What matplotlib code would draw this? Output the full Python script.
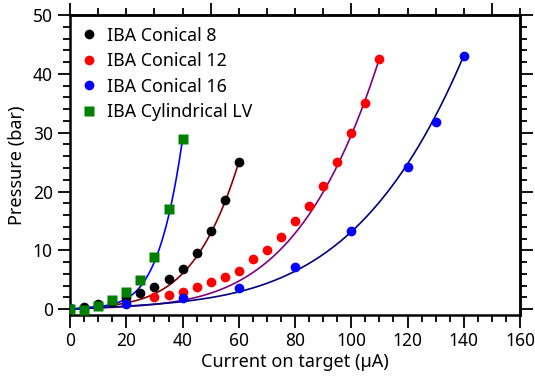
import numpy as np
import matplotlib
matplotlib.use("Agg")
import matplotlib.pyplot as plt
from matplotlib.ticker import MultipleLocator

# ---- data ----
c8_x = [0, 5, 10, 15, 20, 25, 30, 35, 40, 45, 50, 55, 60]
c8_y = [0.0, 0.3, 0.9, 1.3, 1.9, 2.8, 3.8, 5.1, 6.9, 9.6, 13.3, 18.5, 25.0]

c12_x = [30, 35, 40, 45, 50, 55, 60, 65, 70, 75, 80, 85, 90, 95, 100, 105, 110]
c12_y = [2.0, 2.4, 2.95, 3.8, 4.55, 5.4, 6.45, 8.45, 10.0, 12.3, 15.0, 17.5,
         21.0, 25.0, 30.0, 35.0, 42.6]

c16_x = [0, 20, 40, 60, 80, 100, 120, 130, 140]
c16_y = [0.2, 0.9, 1.9, 3.6, 7.1, 13.3, 24.2, 31.9, 43.1]

lv_x = [0, 5, 10, 15, 20, 25, 30, 35, 40]
lv_y = [0.0, -0.2, 0.5, 1.5, 3.0, 4.9, 8.9, 17.0, 28.9]

labels = ["IBA Conical 8", "IBA Conical 12", "IBA Conical 16", "IBA Cylindrical LV"]

# fitted trend curves: y = c*x + (y_end - c*x_end)*(x/x_end)**b
fit_lin = [0.04, 0.02, 0.025, 0.04]
fit_exp = [4.0, 4.0, 3.9, 4.8]


plt.rcParams['font.family'] = ['Noto Sans', 'DejaVu Sans']

fig = plt.figure(figsize=(5.35, 3.76), dpi=100)
ax = fig.add_axes([0.131, 0.162, 0.841, 0.798])

series = [
    (c8_x, c8_y, 'black', 'o', '#8b0000'),
    (c12_x, c12_y, '#ff0000', 'o', '#800080'),
    (c16_x, c16_y, '#0000ff', 'o', '#000080'),
    (lv_x, lv_y, '#008000', 's', '#0000ff'),
]

handles = []
for (x, y, col, mk, fitcol), lab, c, b in zip(series, labels, fit_lin, fit_exp):
    xe, ye = max(x), y[-1]
    xx = np.linspace(0, xe, 300)
    yy = c * xx + (ye - c * xe) * (xx / xe) ** b
    ax.plot(xx, yy, color=fitcol, lw=1.2, zorder=2)
    ms = 7 if mk == 'o' else 6.5
    h, = ax.plot(x, y, mk, color=col, ms=ms, mec='none', zorder=3, label=lab)
    handles.append(h)

ax.set_xlim(0, 160)
ax.set_ylim(-1, 50)

ax.xaxis.set_major_locator(MultipleLocator(20))
ax.xaxis.set_minor_locator(MultipleLocator(5))
ax.yaxis.set_major_locator(MultipleLocator(10))
ax.yaxis.set_minor_locator(MultipleLocator(2))

for s in ax.spines.values():
    s.set_linewidth(1.8)

ax.tick_params(which='both', direction='out', width=1.3, labelsize=12.5,
               colors='black')
ax.tick_params(which='major', length=9)
ax.tick_params(which='minor', length=5)

top = ax.secondary_xaxis('top')
top.xaxis.set_major_locator(MultipleLocator(50))
top.xaxis.set_minor_locator(MultipleLocator(10))
top.tick_params(which='both', direction='out', width=1.3, labelbottom=False,
                labeltop=False)
top.tick_params(which='major', length=9)
top.tick_params(which='minor', length=5)
top.spines['top'].set_linewidth(1.8)

right = ax.secondary_yaxis('right')
right.yaxis.set_major_locator(MultipleLocator(10))
right.yaxis.set_minor_locator(MultipleLocator(2))
right.tick_params(which='both', direction='out', width=1.3, labelright=False)
right.tick_params(which='major', length=9)
right.tick_params(which='minor', length=5)
right.spines['right'].set_linewidth(1.8)

ax.set_xlabel("Current on target (µA)", fontsize=13, labelpad=2)
ax.set_ylabel("Pressure (bar)", fontsize=13, labelpad=5)

ax.legend(handles=handles, loc='upper left', frameon=False, fontsize=12.8,
          handlelength=0.8, handletextpad=0.65, labelspacing=0.42,
          borderaxespad=0.15, borderpad=0.5, numpoints=1)

fig.savefig("out.png", dpi=100)
